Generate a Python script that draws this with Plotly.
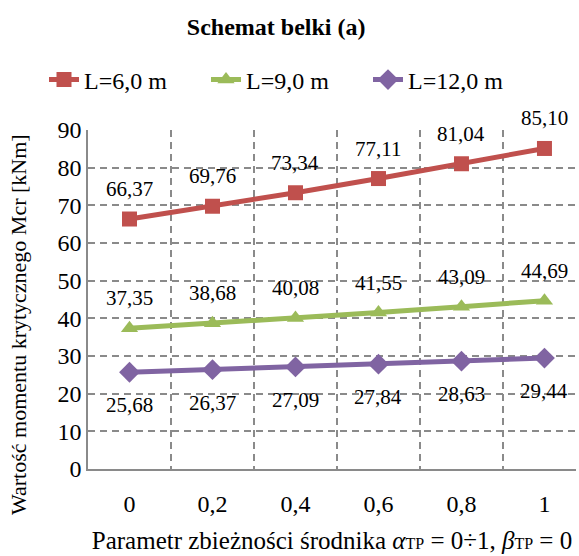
import plotly.graph_objects as go

categories = ["0", "0,2", "0,4", "0,6", "0,8", "1"]
series_names = ["L=6,0 m", "L=9,0 m", "L=12,0 m"]
vals_6 = [66.37, 69.76, 73.34, 77.11, 81.04, 85.10]
vals_9 = [37.35, 38.68, 40.08, 41.55, 43.09, 44.69]
vals_12 = [25.68, 26.37, 27.09, 27.84, 28.63, 29.44]
y_ticks = [0, 10, 20, 30, 40, 50, 60, 70, 80, 90]

colors = ["#C0504D", "#9BBB59", "#8064A2"]
symbols = ["square", "triangle-up", "diamond"]
label_shift = [30, 30, -33]
FONT = "Liberation Serif, Times New Roman, serif"

x = list(range(len(categories)))
fig = go.Figure()
annotations = []
for name, vals, col, sym, ys in zip(series_names, [vals_6, vals_9, vals_12], colors, symbols, label_shift):
    fig.add_trace(go.Scatter(
        x=x, y=vals, name=name, mode="lines+markers",
        line=dict(color=col, width=5),
        marker=dict(symbol=sym, size=15 if sym != "diamond" else 16, color=col),
    ))
    for xi, v in zip(x, vals):
        annotations.append(dict(
            x=xi, y=v, xref="x", yref="y", text=f"{v:.2f}".replace(".", ","),
            showarrow=False, yshift=ys, font=dict(family=FONT, size=21, color="black"),
        ))

# y-axis title as rotated annotation (centred like the reference)
annotations.append(dict(
    text="Wartość momentu krytycznego Mcr [kNm]", textangle=-90,
    xref="paper", yref="paper", x=-70 / 488, y=(469 - 325) / 339,
    xanchor="center", yanchor="middle", showarrow=False,
    font=dict(size=22, family=FONT, color="black"),
))

fig.update_layout(
    width=579, height=556,
    margin=dict(l=88, r=3, t=130, b=87, autoexpand=False),
    paper_bgcolor="white", plot_bgcolor="white",
    font=dict(family=FONT, color="black"),
    title=dict(text="<b>Schemat belki (a)</b>", x=0.477, xanchor="center",
               y=1 - 27 / 556, yanchor="middle", font=dict(size=24, family=FONT)),
    legend=dict(orientation="h", x=44 / 579, xanchor="left", xref="container",
                y=1 - 80 / 556, yanchor="middle", yref="container",
                font=dict(size=24, family=FONT), entrywidth=117, entrywidthmode="pixels",
                bgcolor="rgba(0,0,0,0)"),
    annotations=annotations,
    showlegend=True,
)
fig.update_xaxes(
    range=[-0.5, 5.38], tickvals=x, ticktext=categories, automargin=False,
    showgrid=False, showline=True, linecolor="#8a8a8a", linewidth=1.5,
    ticks="", ticklabelstandoff=12, tickfont=dict(size=24, family=FONT),
    zeroline=False,
    minor=dict(tick0=-0.5, dtick=1, showgrid=True, gridcolor="#8a8a8a", gridwidth=1.5, griddash="7px,5px"),
    title=dict(text="Parametr zbieżności środnika <i>α</i><span style='font-size:16px'>TP</span> = 0÷1, <i>β</i><span style='font-size:16px'>TP</span> = 0",
               font=dict(size=25, family=FONT), standoff=16),
)
fig.update_yaxes(
    range=[0, 90], tickvals=y_ticks, showgrid=True, gridcolor="#8a8a8a", gridwidth=1.5,
    griddash="7px,5px", showline=True, linecolor="#8a8a8a", linewidth=1.5, automargin=False,
    ticks="", tickfont=dict(size=24, family=FONT), zeroline=False,
)
fig.write_html("out.html", config={"displayModeBar": False},
               post_script="document.body.style.margin='0';")
